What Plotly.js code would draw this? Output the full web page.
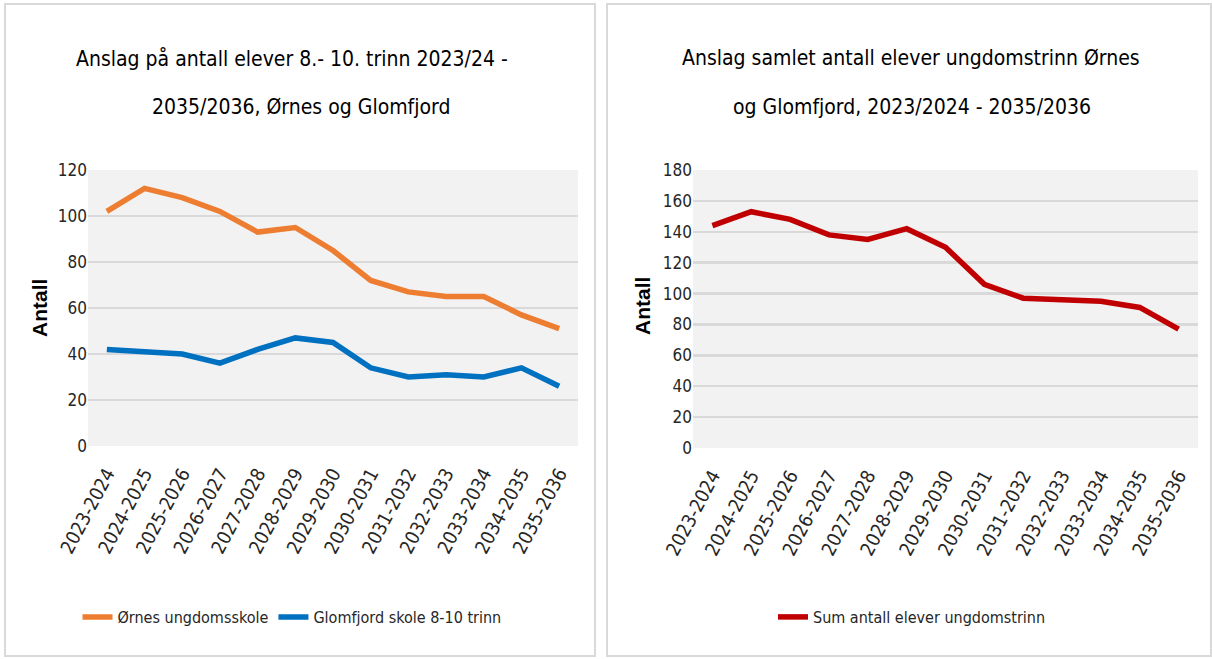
<!DOCTYPE html>
<html><head><meta charset="utf-8">
<script src="https://cdn.plot.ly/plotly-3.0.1.min.js"></script>
<style>html,body{margin:0;padding:0;background:#fff;}#chart{width:1212px;height:659px;}</style>
</head><body><div id="chart"></div>
<script>
const categories = ["2023-2024","2024-2025","2025-2026","2026-2027","2027-2028","2028-2029","2029-2030","2030-2031","2031-2032","2032-2033","2033-2034","2034-2035","2035-2036"];
const ornes = [102,112,108,102,93,95,85,72,67,65,65,57,51];
const glomfjord = [42,41,40,36,42,47,45,34,30,31,30,34,26];
const sumTotal = [144,153,148,138,135,142,130,106,97,96,95,91,77];
const leftTicks = [0,20,40,60,80,100,120];
const rightTicks = [0,20,40,60,80,100,120,140,160,180];

const W = 1212, H = 659;
const px = v => v / W, py = v => 1 - v / H;
const NF = '"Liberation Sans Narrow", "Arial Narrow", "DejaVu Sans Condensed", sans-serif';

const traces = [
  {x: categories, y: ornes, name: "Ørnes ungdomsskole", type: "scatter", mode: "lines",
   line: {color: "#ED7D31", width: 5.5}, xaxis: "x", yaxis: "y", legend: "legend"},
  {x: categories, y: glomfjord, name: "Glomfjord skole 8-10 trinn", type: "scatter", mode: "lines",
   line: {color: "#0070C0", width: 5.5}, xaxis: "x", yaxis: "y", legend: "legend"},
  {x: categories, y: sumTotal, name: "Sum antall elever ungdomstrinn", type: "scatter", mode: "lines",
   line: {color: "#C00000", width: 5.5}, xaxis: "x2", yaxis: "y2", legend: "legend2"}
];

const xcommon = {type: "category", range: [-0.5, categories.length - 0.5], tickangle: -62, showgrid: false,
  zeroline: false, showline: false, ticks: "", ticklabelstandoff: 12,
  tickfont: {family: NF, size: 19, color: "#262626"}, fixedrange: true};
const ycommon = {showgrid: true, gridcolor: "#d9d9d9", gridwidth: 2.5, zeroline: false, showline: false,
  ticks: "", tickfont: {family: NF, size: 17, color: "#262626"}, fixedrange: true};

function title(text, x, y) {
  return {text: text, xref: "paper", yref: "paper", x: px(x), y: py(y), xanchor: "center", yanchor: "middle",
    showarrow: false, font: {family: NF, size: 21, color: "#000"}};
}
function ytitle(x, y) {
  return {text: "<b>Antall</b>", xref: "paper", yref: "paper", x: px(x), y: py(y), textangle: -90,
    xanchor: "center", yanchor: "middle", showarrow: false,
    font: {family: "Liberation Sans, Arial, sans-serif", size: 21, color: "#000"}};
}

const layout = {
  width: W, height: H, margin: {l: 0, r: 0, t: 0, b: 0},
  paper_bgcolor: "#fff", plot_bgcolor: "rgba(0,0,0,0)", showlegend: true,
  xaxis: Object.assign({}, xcommon, {domain: [px(88), px(578)], anchor: "y"}),
  yaxis: Object.assign({}, ycommon, {domain: [py(446), py(170)], range: [0, 120], tickvals: leftTicks, anchor: "x"}),
  xaxis2: Object.assign({}, xcommon, {domain: [px(693), px(1198)], anchor: "y2"}),
  yaxis2: Object.assign({}, ycommon, {domain: [py(448), py(170)], range: [0, 180], tickvals: rightTicks, anchor: "x2"}),
  legend: {orientation: "h", x: px(292), xanchor: "center", y: py(617), yanchor: "middle",
    font: {family: NF, size: 16, color: "#262626"}, bgcolor: "rgba(0,0,0,0)"},
  legend2: {orientation: "h", x: px(912), xanchor: "center", y: py(617), yanchor: "middle",
    font: {family: NF, size: 16, color: "#262626"}, bgcolor: "rgba(0,0,0,0)"},
  shapes: [
    {type: "rect", xref: "paper", yref: "paper", x0: px(5), x1: px(595), y0: py(656), y1: py(4),
     line: {color: "#d9d9d9", width: 2}, fillcolor: "rgba(0,0,0,0)", layer: "below"},
    {type: "rect", xref: "paper", yref: "paper", x0: px(607), x1: px(1211), y0: py(656), y1: py(4),
     line: {color: "#d9d9d9", width: 2}, fillcolor: "rgba(0,0,0,0)", layer: "below"},
    {type: "rect", xref: "x domain", yref: "y domain", x0: 0, x1: 1, y0: 0, y1: 1,
     line: {width: 0}, fillcolor: "#f2f2f2", layer: "below"},
    {type: "rect", xref: "x2 domain", yref: "y2 domain", x0: 0, x1: 1, y0: 0, y1: 1,
     line: {width: 0}, fillcolor: "#f2f2f2", layer: "below"}
  ],
  annotations: [
    title("Anslag på antall elever 8.- 10. trinn 2023/24 -", 292, 58),
    title("2035/2036, Ørnes og Glomfjord", 301, 107),
    title("Anslag samlet antall elever ungdomstrinn Ørnes", 911, 58),
    title("og Glomfjord, 2023/2024 - 2035/2036", 912, 107),
    ytitle(40, 308),
    ytitle(643, 306)
  ]
};

Plotly.newPlot("chart", traces, layout, {displayModeBar: false, staticPlot: true});
</script></body></html>
